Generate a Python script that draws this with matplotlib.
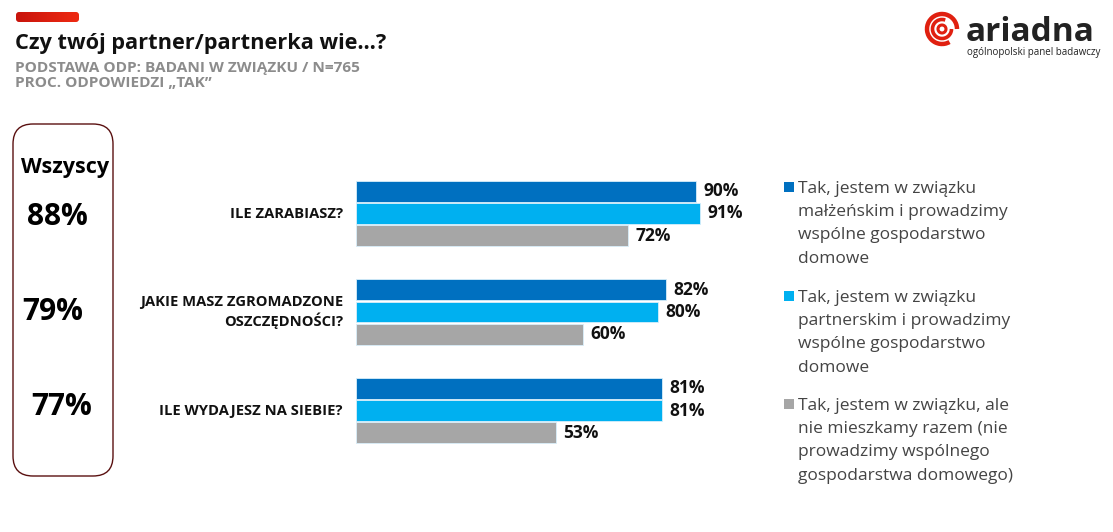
import matplotlib; matplotlib.use("Agg")
import matplotlib.pyplot as plt
import numpy as np
from matplotlib.patches import FancyBboxPatch, Rectangle, Arc, Circle
from matplotlib.colors import LinearSegmentedColormap

plt.rcParams.update({"font.family": ["Open Sans", "DejaVu Sans"]})

W, H = 1113, 532
DARKBLUE = "#0070C0"; LIGHTBLUE = "#00B0F0"; GRAY = "#A6A6A6"; RED = "#E02010"

categories = ["ILE ZARABIASZ?", "JAKIE MASZ ZGROMADZONE\nOSZCZĘDNOŚCI?", "ILE WYDAJESZ NA SIEBIE?"]
married = [90, 82, 81]
partners = [91, 80, 81]
apart = [72, 60, 53]
overall = [88, 79, 77]
series_names = [
    "Tak, jestem w związku\nmałżeńskim i prowadzimy\nwspólne gospodarstwo\ndomowe",
    "Tak, jestem w związku\npartnerskim i prowadzimy\nwspólne gospodarstwo\ndomowe",
    "Tak, jestem w związku, ale\nnie mieszkamy razem (nie\nprowadzimy wspólnego\ngospodarstwa domowego)",
]
colors = [DARKBLUE, LIGHTBLUE, GRAY]

def fx(x): return x / W
def fy(y): return 1 - y / H

fig = plt.figure(figsize=(W / 100, H / 100), dpi=100)
fig.patch.set_facecolor("white")

# overlay in pixel coordinates (y down) for header, logo, box, legend
bg = fig.add_axes([0, 0, 1, 1]); bg.axis("off")
bg.set_xlim(0, W); bg.set_ylim(H, 0)

# red header bar with a slight gradient
grad = np.linspace(0, 1, 64).reshape(1, -1)
cm = LinearSegmentedColormap.from_list("r", ["#C8140C", "#EE2A12"])
bar_bg = FancyBboxPatch((16, 12), 63, 10, boxstyle="round,pad=0,rounding_size=3", lw=0, facecolor="none")
bg.add_patch(bar_bg)
im = bg.imshow(grad, extent=(16, 79, 22, 12), cmap=cm, aspect="auto")
im.set_clip_path(bar_bg)

bg.text(15, 44, "Czy twój partner/partnerka wie…?", fontsize=15.7, fontweight="bold", va="center", color="#111")
bg.text(15, 68, "PODSTAWA ODP: BADANI W ZWIĄZKU / N=765", fontsize=11.1, fontweight="bold", va="center", color="#8c8c8c")
bg.text(15, 83, "PROC. ODPOWIEDZI „TAK”", fontsize=11.1, fontweight="bold", va="center", color="#8c8c8c")

# logo
bg.add_patch(Arc((942, 29), 30, 30, theta1=60, theta2=360, lw=3.2, color=RED))
bg.add_patch(Arc((942, 29), 19, 19, theta1=0, theta2=290, lw=2.6, color=RED))
bg.add_patch(Circle((942, 29), 4, fill=False, lw=2.2, color=RED))
bg.text(966, 41, "ariadna", fontsize=24, fontweight="bold", va="baseline", color="#222")
bg.text(1100, 53, "ogólnopolski panel badawczy", fontsize=7, ha="right", va="center", color="#222")

# left box
bg.add_patch(FancyBboxPatch((13, 124), 100, 352, boxstyle="round,pad=0,rounding_size=20",
                            facecolor="white", edgecolor="#5a1010", lw=1))
bg.text(65, 167, "Wszyscy", fontsize=15.5, fontweight="bold", ha="center", va="center")
for v, (x, y) in zip(overall, [(57, 217), (53, 312), (62, 407)]):
    bg.text(x, y, f"{v}%", fontsize=21.5, fontweight="bold", ha="center", va="center")

# bars
ax = fig.add_axes([fx(356), fy(459.75), 378 / W, 295.5 / H])
y = np.arange(len(categories))
h = 0.213; off = 0.224
for i, (vals, c) in enumerate(zip([married, partners, apart], colors)):
    pos = y + (i - 1) * off
    ax.barh(pos, vals, height=h, color=c, edgecolor="#d8eefa", lw=0.6)
    for p, v in zip(pos, vals):
        ax.text(v + 1.9, p, f"{v}%", va="center", ha="left", fontsize=12.5, fontweight="bold", color="#111")
ax.set_xlim(0, 100); ax.set_ylim(2.5, -0.5)
ax.axis("off")
for yc, lab in zip(y, categories):
    ax.text(-3.5, yc, lab, ha="right", va="center", fontsize=10.6, fontweight="bold", color="#111", linespacing=1.2)

# legend
for name, c, ytop in zip(series_names, colors, [187, 296, 404]):
    bg.add_patch(Rectangle((784, ytop - 5), 10, 10, color=c, lw=0))
    bg.text(798, ytop - 6, name, fontsize=12.5, va="top", ha="left", color="#444", linespacing=1.6)

fig.savefig("out.png", dpi=100, facecolor="white")
